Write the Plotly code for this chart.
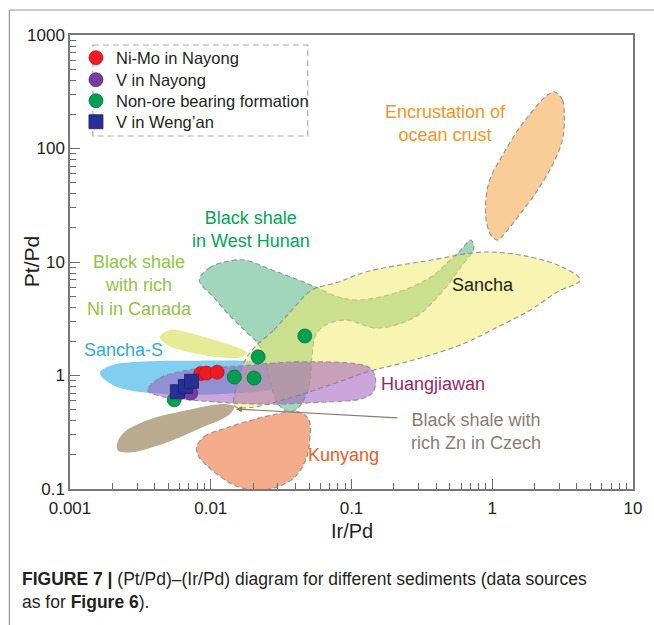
import math
import plotly.graph_objects as go

# ---- measured samples (Ir/Pd, Pt/Pd) ----
nimo_ir = [0.0085, 0.0093, 0.0111]
nimo_pt = [1.04, 1.05, 1.07]

v_nayong_ir = [0.0072]
v_nayong_pt = [0.70]

nonore_ir = [0.0055, 0.0147, 0.0203, 0.0217, 0.0466]
nonore_pt = [0.61, 0.97, 0.95, 1.46, 2.23]

v_wengan_ir = [0.0058, 0.0066, 0.0073]
v_wengan_pt = [0.72, 0.80, 0.89]

# ---- literature fields (outline vertices, Ir/Pd vs Pt/Pd) ----
sancha_s_ir = [0.00163, 0.00192, 0.00328, 0.0083, 0.0220, 0.0359, 0.042, 0.033, 0.0129, 0.00433, 0.00208]
sancha_s_pt = [1.05, 1.22, 1.33, 1.35, 1.33, 1.22, 0.99, 0.80, 0.69, 0.69, 0.81]

canada_ir = [0.00433, 0.0051, 0.00705, 0.0106, 0.0159, 0.0181, 0.0159, 0.0106, 0.00705, 0.00493]
canada_pt = [2.18, 2.52, 2.37, 2.06, 1.75, 1.58, 1.43, 1.46, 1.61, 1.86]

hunan_ir = [0.0083, 0.00975, 0.01245, 0.0173, 0.0272, 0.042, 0.0557, 0.0809, 0.112, 0.215,
            0.367, 0.485, 0.598, 0.705, 0.74, 0.598, 0.4325, 0.283, 0.155, 0.0908,
            0.0655, 0.0557, 0.0521, 0.0497, 0.042, 0.0359, 0.0305, 0.0268, 0.0243, 0.0220,
            0.0173, 0.0135, 0.0106]
hunan_pt = [6.94, 8.85, 10.0, 10.4, 8.50, 6.94, 6.02, 4.92, 4.62, 5.44,
            7.38, 10.0, 12.76, 15.6, 13.3, 9.04, 5.33, 3.28, 2.62, 3.08,
            2.79, 2.27, 1.37, 0.79, 0.52, 0.48, 0.55, 0.82, 1.37, 1.86,
            2.52, 3.41, 4.82]

sancha_ir = [0.0203, 0.0281, 0.0389, 0.0521, 0.0809, 0.126, 0.367, 0.885, 1.87, 3.25, 4.22, 2.90,
             1.87, 1.09, 0.64, 0.35, 0.215, 0.138, 0.069, 0.036, 0.0187, 0.0147, 0.0154, 0.0173]
sancha_pt = [1.75, 2.52, 3.93, 5.66, 6.66, 8.16, 10.4, 12.25, 11.07, 8.85, 6.94, 5.44,
             3.78, 2.67, 1.93, 1.49, 1.26, 1.10, 0.82, 0.63, 0.52, 0.54, 0.82, 1.32]

huang_ir = [0.00356, 0.00433, 0.00705, 0.0159, 0.042, 0.112, 0.1361, 0.148, 0.143, 0.1216,
            0.0585, 0.0220, 0.0083, 0.00433]
huang_pt = [0.74, 0.95, 1.12, 1.21, 1.32, 1.26, 1.16, 0.95, 0.72, 0.63,
            0.58, 0.56, 0.60, 0.66]

czech_ir = [0.00218, 0.00245, 0.00367, 0.00705, 0.01245, 0.01466, 0.01352, 0.0083, 0.00433, 0.00266, 0.00218]
czech_pt = [0.26, 0.32, 0.41, 0.50, 0.56, 0.53, 0.45, 0.34, 0.244, 0.21, 0.22]

kunyang_ir = [0.00791, 0.00899, 0.01245, 0.0203, 0.033, 0.042, 0.0497, 0.0505, 0.0473, 0.0389,
              0.0281, 0.0203, 0.0147, 0.0106, 0.0083]
kunyang_pt = [0.23, 0.29, 0.34, 0.41, 0.47, 0.48, 0.41, 0.27, 0.18, 0.125,
              0.102, 0.098, 0.108, 0.141, 0.19]

crust_ir = [2.77, 3.15, 3.25, 3.15, 2.68, 2.10, 1.56, 1.25, 1.09, 0.99, 0.91, 0.90, 0.96, 1.19, 1.56, 2.10, 2.47]
crust_pt = [315, 268, 197, 119, 72, 43, 26, 18.4, 15.6, 16.9, 22.5, 35, 53, 88, 152, 242, 296]

czech_arrow_tip = (0.0151, 0.507)

decade_vals = [0.001, 0.01, 0.1, 1, 10]
decade_text = ["0.001", "0.01", "0.1", "1", "10"]
y_decade_vals = [0.1, 1, 10, 100, 1000]
y_decade_text = ["0.1", "1", "10", "100", "1000"]

FONT = "Liberation Sans, Arial, sans-serif"
INK = "rgb(35,31,32)"
OUTLINE = "rgba(135,140,150,0.95)"

fig = go.Figure()


def field(xs, ys, fill, dashed=True):
    xs = list(xs) + [xs[0]]
    ys = list(ys) + [ys[0]]
    fig.add_trace(go.Scatter(
        x=xs, y=ys, mode="lines", fill="toself", fillcolor=fill,
        line=dict(color=OUTLINE if dashed else "rgba(0,0,0,0)", width=1.1,
                  dash="5px,3px", shape="spline", smoothing=1.0),
        hoverinfo="skip", showlegend=False))


field(sancha_s_ir, sancha_s_pt, "rgb(128,206,240)", dashed=False)
field(canada_ir, canada_pt, "rgb(230,236,150)", dashed=False)
field(hunan_ir, hunan_pt, "rgb(162,214,186)")
field(sancha_ir, sancha_pt, "rgba(242,234,100,0.5)")
field(huang_ir, huang_pt, "rgba(160,92,190,0.55)")
field(czech_ir, czech_pt, "rgb(186,170,142)", dashed=False)
field(kunyang_ir, kunyang_pt, "rgb(245,172,140)")
field(crust_ir, crust_pt, "rgb(249,204,152)")

# sample points, each series in its own legend row
fig.add_trace(go.Scatter(
    x=nonore_ir, y=nonore_pt, mode="markers", name="Non-ore bearing formation", legend="legend3",
    marker=dict(symbol="circle", size=14, color="rgb(0,160,80)", line=dict(color="rgb(0,110,55)", width=0.8))))
fig.add_trace(go.Scatter(
    x=nimo_ir, y=nimo_pt, mode="markers", name="Ni-Mo in Nayong", legend="legend",
    marker=dict(symbol="circle", size=14, color="rgb(237,28,36)", line=dict(color="rgb(180,20,25)", width=0.8))))
fig.add_trace(go.Scatter(
    x=v_nayong_ir, y=v_nayong_pt, mode="markers", name="V in Nayong", legend="legend2",
    marker=dict(symbol="circle", size=14, color="rgb(118,60,160)", line=dict(color="rgb(85,40,120)", width=0.8))))
fig.add_trace(go.Scatter(
    x=v_wengan_ir, y=v_wengan_pt, mode="markers", name="V in Weng\u2019an", legend="legend4",
    marker=dict(symbol="square", size=14, color="rgb(40,48,150)", line=dict(color="rgb(25,30,100)", width=0.8))))


def px_to_paper(px, py):
    # helper for label placement on the 566x454 plotting area
    return (px - 70) / 566.0, (489 - py) / 454.0


labels = [
    ("Encrustation of<br>ocean crust", 447, 124, "rgb(247,148,29)"),
    ("Black shale<br>in West Hunan", 252, 229, "rgb(0,166,81)"),
    ("Black shale<br>with rich<br>Ni in Canada", 140, 285, "rgb(141,198,63)"),
    ("Sancha-S", 124, 350, "rgb(41,171,226)"),
    ("Sancha", 485, 285, INK),
    ("Huangjiawan", 435, 384, "rgb(158,31,99)"),
    ("Black shale with<br>rich Zn in Czech", 478, 431, "rgb(140,123,112)"),
    ("Kunyang", 345, 455, "rgb(241,90,36)"),
]
annotations = []
for text, px, py, col in labels:
    xp, yp = px_to_paper(px, py)
    annotations.append(dict(text=text, x=xp, y=yp, xref="paper", yref="paper",
                            showarrow=False, font=dict(family=FONT, size=18, color=col),
                            align="center", xanchor="center", yanchor="middle"))

# pointer from the Czech label to its field
annotations.append(dict(
    x=math.log10(czech_arrow_tip[0]), y=math.log10(czech_arrow_tip[1]), xref="x", yref="y",
    ax=163, ay=9, axref="pixel", ayref="pixel", text="", showarrow=True,
    arrowhead=2, arrowsize=1.0, arrowwidth=1.2, arrowcolor="rgb(140,120,110)"))

# axis titles
ytx, yty = px_to_paper(31, 262)
annotations.append(dict(text="Pt/Pd", x=ytx, y=yty, xref="paper", yref="paper", textangle=-90,
                        showarrow=False, xanchor="center", yanchor="middle",
                        font=dict(family=FONT, size=21, color=INK)))
xtx, xty = px_to_paper(353, 518)
annotations.append(dict(text="Ir/Pd", x=xtx, y=xty, xref="paper", yref="paper",
                        showarrow=False, xanchor="center", yanchor="top",
                        font=dict(family=FONT, size=20, color=INK)))

# caption
annotations.append(dict(
    text="<b>FIGURE 7 |</b> (Pt/Pd)\u2013(Ir/Pd) diagram for different sediments (data sources<br>"
         "as for <b>Figure 6</b>).",
    x=px_to_paper(20, 0)[0], y=px_to_paper(0, 567)[1], xref="paper", yref="paper",
    xanchor="left", yanchor="top", align="left", showarrow=False,
    font=dict(family=FONT, size=17.5, color=INK)))

lx0, ly0 = px_to_paper(93, 45)
lx1, ly1 = px_to_paper(309, 136)
fx0, fy0 = px_to_paper(9, 10)
fx1, fy1 = px_to_paper(660, 630)
shapes = [
    dict(type="rect", xref="paper", yref="paper", x0=lx0, y0=ly0, x1=lx1, y1=ly1,
         line=dict(color="rgb(170,170,175)", width=1.2, dash="6px,4px"), fillcolor="rgba(0,0,0,0)"),
    dict(type="line", xref="paper", yref="paper", x0=fx0, y0=fy0, x1=fx1, y1=fy0,
         line=dict(color="rgb(150,150,150)", width=1.2)),
    dict(type="line", xref="paper", yref="paper", x0=fx0, y0=fy0, x1=fx0, y1=fy1,
         line=dict(color="rgb(150,150,150)", width=1.2)),
]

minor_x = [m * 10 ** e for e in range(-3, 1) for m in range(2, 10)]
minor_y = [m * 10 ** e for e in range(-1, 3) for m in range(2, 10)]

axis_common = dict(
    type="log", showgrid=False, zeroline=False, showline=True, mirror=True,
    linecolor="rgb(120,120,120)", linewidth=1.5, ticks="inside", ticklen=10,
    tickwidth=1.2, tickcolor="rgb(110,110,110)",
    tickfont=dict(family=FONT, size=17, color=INK),
)


def legend_row(py):
    x, y = px_to_paper(76, py)
    return dict(x=x, y=y, xanchor="left", yanchor="middle", bgcolor="rgba(0,0,0,0)",
                borderwidth=0, font=dict(family=FONT, size=16.5, color=INK), itemwidth=30)


fig.update_layout(
    width=654, height=625,
    margin=dict(l=70, r=18, t=35, b=136),
    paper_bgcolor="white", plot_bgcolor="white",
    showlegend=True,
    legend=legend_row(58),
    legend2=legend_row(80),
    legend3=legend_row(101),
    legend4=legend_row(122),
    xaxis=dict(axis_common, range=[-3, 1], tickvals=decade_vals, ticktext=decade_text,
               ticklabelstandoff=3,
               minor=dict(tickvals=minor_x, ticks="inside", ticklen=6, tickcolor="rgb(110,110,110)")),
    yaxis=dict(axis_common, range=[-1, 3], tickvals=y_decade_vals, ticktext=y_decade_text,
               minor=dict(tickvals=minor_y, ticks="inside", ticklen=6, tickcolor="rgb(110,110,110)")),
    annotations=annotations,
    shapes=shapes,
)

fig.write_html("out.html")
